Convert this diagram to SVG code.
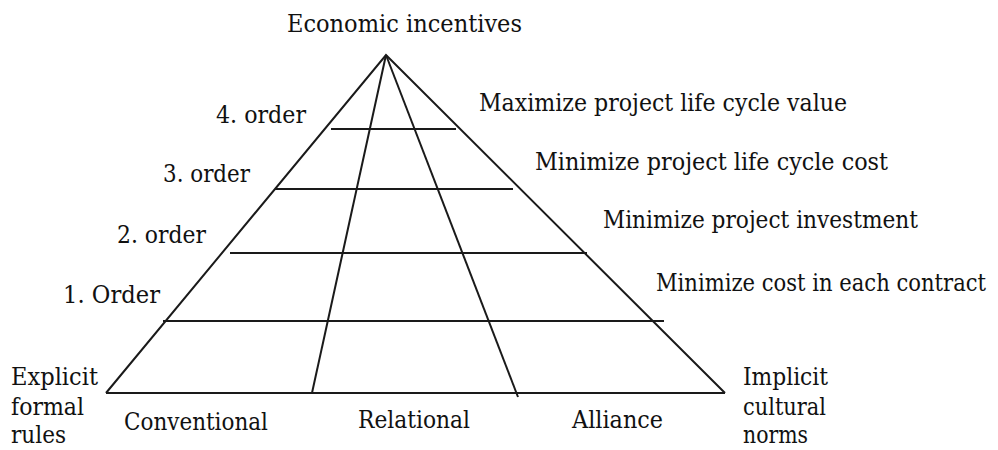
<svg xmlns="http://www.w3.org/2000/svg" width="998" height="450" viewBox="0 0 998 450">
<style>
  .ln { stroke: #1a1a1a; stroke-width: 2; fill: none; stroke-linecap: butt; }
  .t { font-family: 'DejaVu Serif', serif; font-size: 25px; fill: #111; }
  .m { text-anchor: middle; }
</style>
<rect width="998" height="450" fill="#ffffff"/>
<g id="pyramid">
  <polyline class="ln" points="106,393 386,55 725,393"/>
  <line class="ln" x1="106" y1="393" x2="725" y2="393"/>
  <line class="ln" x1="386" y1="55" x2="312" y2="393"/>
  <line class="ln" x1="386" y1="55" x2="518" y2="397"/>
  <line class="ln" x1="331" y1="129" x2="456" y2="129"/>
  <line class="ln" x1="275" y1="189" x2="513" y2="189"/>
  <line class="ln" x1="230" y1="253" x2="587" y2="253"/>
  <line class="ln" x1="163" y1="321" x2="664" y2="321"/>
</g>
<g id="top-label">
  <text class="t" x="287" y="32" textLength="235" lengthAdjust="spacingAndGlyphs">Economic incentives</text>
</g>
<g id="order-labels">
  <text class="t" x="216" y="123" textLength="90" lengthAdjust="spacingAndGlyphs">4. order</text>
  <text class="t" x="163" y="182" textLength="87" lengthAdjust="spacingAndGlyphs">3. order</text>
  <text class="t" x="117" y="243" textLength="89" lengthAdjust="spacingAndGlyphs">2. order</text>
  <text class="t" x="63" y="303" textLength="97" lengthAdjust="spacingAndGlyphs">1. Order</text>
</g>
<g id="objective-labels">
  <text class="t" x="479" y="111" textLength="368" lengthAdjust="spacingAndGlyphs">Maximize project life cycle value</text>
  <text class="t" x="535" y="170" textLength="353" lengthAdjust="spacingAndGlyphs">Minimize project life cycle cost</text>
  <text class="t" x="603" y="228" textLength="315" lengthAdjust="spacingAndGlyphs">Minimize project investment</text>
  <text class="t" x="656" y="291" textLength="330" lengthAdjust="spacingAndGlyphs">Minimize cost in each contract</text>
</g>
<g id="left-corner">
  <text class="t" x="11" y="385" textLength="87" lengthAdjust="spacingAndGlyphs">Explicit</text>
  <text class="t" x="11" y="415" textLength="73" lengthAdjust="spacingAndGlyphs">formal</text>
  <text class="t" x="11" y="443" textLength="55" lengthAdjust="spacingAndGlyphs">rules</text>
</g>
<g id="right-corner">
  <text class="t" x="743" y="385" textLength="85" lengthAdjust="spacingAndGlyphs">Implicit</text>
  <text class="t" x="743" y="415" textLength="83" lengthAdjust="spacingAndGlyphs">cultural</text>
  <text class="t" x="743" y="443" textLength="65" lengthAdjust="spacingAndGlyphs">norms</text>
</g>
<g id="column-labels">
  <text class="t" x="124" y="430" textLength="144" lengthAdjust="spacingAndGlyphs">Conventional</text>
  <text class="t" x="358" y="428" textLength="112" lengthAdjust="spacingAndGlyphs">Relational</text>
  <text class="t" x="572" y="428" textLength="91" lengthAdjust="spacingAndGlyphs">Alliance</text>
</g>
</svg>
